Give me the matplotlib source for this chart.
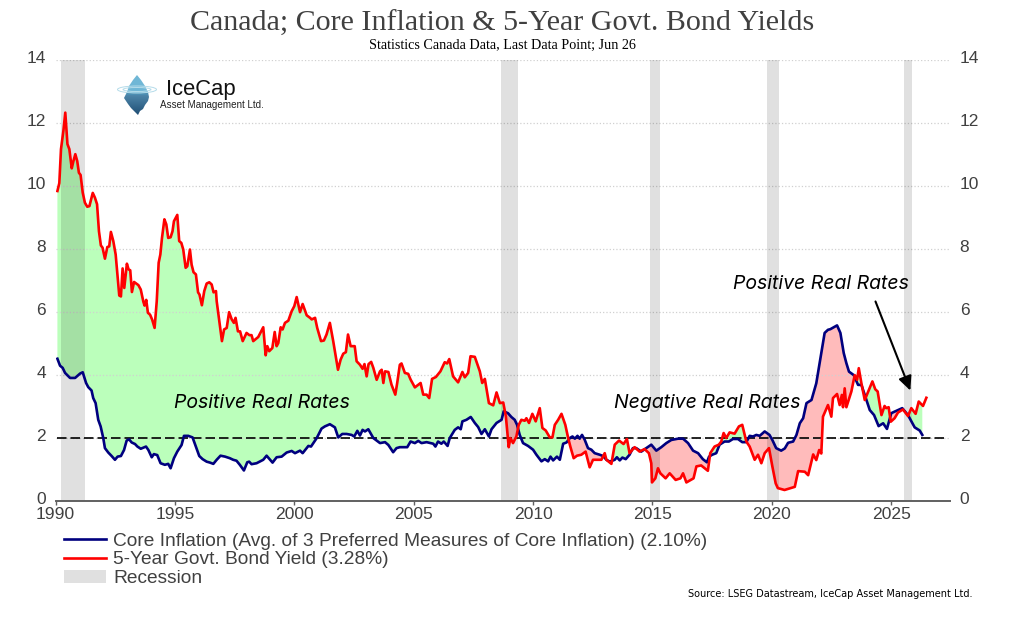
# Canada core inflation vs 5-year bond yield
import numpy as np
import matplotlib
matplotlib.use("Agg")
import matplotlib.pyplot as plt
from matplotlib.lines import Line2D
from matplotlib.patches import Patch, Polygon, Ellipse
from matplotlib.transforms import ScaledTranslation

# 5-year yield (year fraction, percent)
red_years = [1990.08, 1990.16, 1990.23, 1990.33, 1990.41, 1990.50, 1990.58, 1990.68, 1990.75, 1990.83,
             1990.91, 1990.98, 1991.05, 1991.14, 1991.23, 1991.33, 1991.42, 1991.56, 1991.65, 1991.74,
             1991.82, 1991.90, 1991.97, 1992.07, 1992.17, 1992.25, 1992.32, 1992.42, 1992.52, 1992.60,
             1992.67, 1992.74, 1992.81, 1992.88, 1992.99, 1993.06, 1993.13, 1993.20, 1993.29, 1993.47,
             1993.57, 1993.68, 1993.73, 1993.80, 1993.87, 1993.96, 1994.05, 1994.15, 1994.24, 1994.32,
             1994.39, 1994.46, 1994.56, 1994.64, 1994.72, 1994.82, 1994.90, 1994.96, 1995.10, 1995.18,
             1995.27, 1995.35, 1995.45, 1995.52, 1995.63, 1995.70, 1995.78, 1995.88, 1995.97, 1996.03,
             1996.13, 1996.23, 1996.33, 1996.44, 1996.54, 1996.62, 1996.72, 1996.75, 1996.86, 1996.97,
             1997.06, 1997.17, 1997.27, 1997.38, 1997.47, 1997.54, 1997.64, 1997.73, 1997.84, 1998.00,
             1998.12, 1998.21, 1998.28, 1998.49, 1998.70, 1998.80, 1998.87, 1998.95, 1999.08, 1999.18,
             1999.26, 1999.33, 1999.43, 1999.51, 1999.61, 1999.75, 1999.89, 2000.00, 2000.10, 2000.24,
             2000.35, 2000.52, 2000.66, 2000.73, 2000.87, 2000.96, 2001.12, 2001.24, 2001.35, 2001.49,
             2001.63, 2001.83, 2001.94, 2002.05, 2002.16, 2002.25, 2002.36, 2002.53, 2002.61, 2002.75,
             2002.86, 2002.94, 2003.03, 2003.11, 2003.22, 2003.31, 2003.45, 2003.59, 2003.66, 2003.73,
             2003.80, 2003.94, 2004.07, 2004.23, 2004.31, 2004.42, 2004.49, 2004.63, 2004.77, 2004.87,
             2005.05, 2005.29, 2005.40, 2005.54, 2005.65, 2005.77, 2005.93, 2006.12, 2006.30, 2006.40,
             2006.49, 2006.65, 2006.86, 2007.04, 2007.14, 2007.28, 2007.38, 2007.56, 2007.77, 2007.87,
             2007.98, 2008.15, 2008.33, 2008.47, 2008.61, 2008.75, 2008.86, 2008.98, 2009.05, 2009.16,
             2009.30, 2009.40, 2009.51, 2009.65, 2009.72, 2009.83, 2009.97, 2010.11, 2010.28, 2010.39,
             2010.53, 2010.70, 2010.81, 2010.91, 2011.05, 2011.19, 2011.35, 2011.47, 2011.56, 2011.70,
             2011.84, 2012.02, 2012.20, 2012.37, 2012.51, 2012.72, 2012.86, 2013.00, 2013.07, 2013.28,
             2013.42, 2013.60, 2013.79, 2013.93, 2014.04, 2014.25, 2014.46, 2014.67, 2014.85, 2014.95,
             2014.98, 2015.12, 2015.23, 2015.33, 2015.55, 2015.72, 2015.97, 2016.17, 2016.28, 2016.42,
             2016.56, 2016.72, 2016.84, 2017.04, 2017.32, 2017.42, 2017.60, 2017.78, 2017.88, 2017.98,
             2018.09, 2018.23, 2018.44, 2018.62, 2018.76, 2018.93, 2019.07, 2019.28, 2019.42, 2019.56,
             2019.70, 2019.88, 2020.02, 2020.16, 2020.25, 2020.53, 2020.75, 2020.96, 2021.10, 2021.38,
             2021.52, 2021.73, 2021.86, 2021.98, 2022.07, 2022.14, 2022.35, 2022.49, 2022.56, 2022.73,
             2022.84, 2022.93, 2022.98, 2023.05, 2023.12, 2023.33, 2023.47, 2023.57, 2023.64, 2023.75,
             2023.89, 2024.21, 2024.33, 2024.43, 2024.59, 2024.72, 2024.79, 2024.89, 2024.98, 2025.14,
             2025.28, 2025.49, 2025.70, 2025.84, 2026.02, 2026.15, 2026.33, 2026.47]
red_vals = [9.85, 10.10, 11.18, 11.76, 12.34, 11.34, 11.18, 10.57, 10.80, 11.02,
            10.80, 10.43, 10.36, 9.80, 9.48, 9.35, 9.37, 9.79, 9.64, 9.43,
            8.57, 8.12, 8.05, 7.70, 8.07, 8.09, 8.55, 8.26, 7.83, 7.14,
            6.53, 6.50, 7.39, 6.77, 7.54, 7.36, 7.33, 6.64, 6.96, 6.86,
            6.72, 6.33, 6.21, 6.39, 5.98, 5.92, 5.76, 5.50, 6.35, 7.57,
            7.83, 8.36, 8.95, 8.79, 8.36, 8.38, 8.57, 8.89, 9.09, 8.26,
            8.20, 7.99, 7.41, 7.46, 7.99, 7.51, 7.27, 7.20, 6.63, 6.56,
            6.22, 6.67, 6.91, 6.95, 6.88, 6.63, 6.67, 6.35, 5.71, 5.08,
            5.45, 5.50, 6.00, 5.77, 5.66, 5.82, 5.39, 5.39, 5.08, 5.34,
            5.27, 5.27, 5.08, 5.21, 5.52, 4.63, 4.92, 4.76, 4.86, 5.37,
            4.92, 5.02, 5.52, 5.45, 5.66, 5.73, 6.03, 6.19, 6.48, 6.00,
            6.26, 5.90, 5.82, 5.77, 5.82, 5.50, 5.08, 5.10, 5.29, 5.66,
            5.08, 4.17, 4.49, 4.68, 4.73, 5.29, 4.92, 4.92, 4.44, 4.33,
            4.20, 4.35, 3.96, 4.35, 4.42, 4.23, 3.85, 4.12, 4.17, 3.75,
            4.12, 4.10, 3.70, 3.38, 3.75, 4.33, 4.37, 4.07, 4.04, 3.86,
            3.61, 3.75, 3.38, 3.38, 3.27, 3.88, 3.94, 4.12, 4.41, 4.37,
            4.51, 3.96, 3.77, 4.10, 3.93, 4.07, 4.60, 4.58, 4.12, 3.75,
            3.88, 3.11, 3.04, 3.45, 3.11, 3.13, 2.69, 1.71, 2.00, 1.84,
            2.05, 2.42, 2.58, 2.55, 2.63, 2.48, 2.77, 2.53, 2.95, 2.32,
            2.24, 2.02, 2.02, 2.42, 2.58, 2.77, 2.42, 2.00, 1.73, 1.36,
            1.44, 1.47, 1.57, 1.07, 1.31, 1.31, 1.31, 1.52, 1.31, 1.18,
            1.79, 1.92, 1.81, 1.97, 1.52, 1.71, 1.57, 1.65, 1.52, 1.20,
            0.59, 0.72, 1.04, 0.88, 0.72, 0.88, 0.67, 0.72, 0.88, 0.59,
            0.65, 0.72, 1.10, 1.13, 0.96, 1.52, 1.73, 1.79, 1.89, 2.16,
            2.00, 2.18, 2.14, 2.37, 2.42, 1.89, 1.73, 1.31, 1.47, 1.20,
            1.52, 1.68, 1.10, 0.56, 0.41, 0.35, 0.40, 0.45, 0.95, 0.93,
            0.82, 1.48, 1.30, 1.62, 1.51, 2.68, 3.05, 2.68, 3.27, 3.40,
            3.05, 3.37, 2.98, 3.58, 2.98, 3.48, 4.00, 3.85, 4.22, 3.74,
            3.21, 3.80, 3.55, 3.48, 2.73, 3.02, 2.95, 2.98, 2.52, 2.63,
            2.81, 2.91, 2.70, 2.95, 2.77, 3.16, 3.02, 3.28]

# core inflation (year fraction, percent)
blue_years = [1990.08, 1990.19, 1990.30, 1990.40, 1990.61, 1990.82, 1991.03, 1991.14, 1991.28, 1991.37,
              1991.51, 1991.58, 1991.68, 1991.79, 1991.89, 1992.00, 1992.07, 1992.21, 1992.35, 1992.49,
              1992.60, 1992.74, 1992.87, 1992.98, 1993.08, 1993.19, 1993.33, 1993.43, 1993.57, 1993.79,
              1993.89, 1994.03, 1994.12, 1994.26, 1994.40, 1994.58, 1994.72, 1994.82, 1994.96, 1995.10,
              1995.28, 1995.38, 1995.56, 1995.74, 1995.88, 1996.02, 1996.16, 1996.33, 1996.47, 1996.61,
              1996.75, 1996.91, 1997.10, 1997.30, 1997.44, 1997.58, 1997.72, 1997.89, 1998.03, 1998.11,
              1998.21, 1998.42, 1998.70, 1998.84, 1999.09, 1999.26, 1999.47, 1999.68, 1999.89, 2000.03,
              2000.24, 2000.35, 2000.59, 2000.70, 2000.94, 2001.14, 2001.28, 2001.49, 2001.70, 2001.84,
              2002.01, 2002.19, 2002.40, 2002.51, 2002.64, 2002.75, 2002.86, 2002.96, 2003.10, 2003.31,
              2003.59, 2003.80, 2003.94, 2004.14, 2004.28, 2004.42, 2004.73, 2004.87, 2005.05, 2005.19,
              2005.33, 2005.54, 2005.82, 2005.91, 2006.02, 2006.16, 2006.26, 2006.42, 2006.51, 2006.72,
              2006.86, 2006.97, 2007.04, 2007.21, 2007.39, 2007.56, 2007.70, 2007.84, 2007.98, 2008.15,
              2008.26, 2008.47, 2008.68, 2008.77, 2008.95, 2009.09, 2009.23, 2009.33, 2009.44, 2009.58,
              2009.79, 2010.00, 2010.14, 2010.35, 2010.49, 2010.63, 2010.73, 2010.84, 2011.00, 2011.12,
              2011.26, 2011.40, 2011.54, 2011.65, 2011.75, 2011.86, 2011.95, 2012.05, 2012.16, 2012.30,
              2012.44, 2012.58, 2012.79, 2012.93, 2013.07, 2013.21, 2013.42, 2013.51, 2013.63, 2013.74,
              2013.88, 2014.04, 2014.18, 2014.32, 2014.53, 2014.74, 2014.95, 2015.16, 2015.37, 2015.58,
              2015.79, 2016.07, 2016.28, 2016.49, 2016.70, 2016.91, 2017.11, 2017.28, 2017.37, 2017.50,
              2017.67, 2017.81, 2018.02, 2018.20, 2018.37, 2018.58, 2018.76, 2018.93, 2019.07, 2019.21,
              2019.35, 2019.49, 2019.70, 2019.90, 2020.02, 2020.18, 2020.39, 2020.54, 2020.68, 2020.89,
              2021.03, 2021.17, 2021.31, 2021.45, 2021.66, 2021.86, 2022.07, 2022.21, 2022.35, 2022.45,
              2022.73, 2022.87, 2023.01, 2023.12, 2023.23, 2023.43, 2023.61, 2023.75, 2023.96, 2024.10,
              2024.28, 2024.47, 2024.66, 2024.82, 2025.00, 2025.14, 2025.46, 2025.70, 2025.98, 2026.19,
              2026.30]
blue_vals = [4.52, 4.30, 4.23, 4.07, 3.91, 3.91, 4.05, 4.09, 3.75, 3.62,
             3.51, 3.27, 3.11, 2.58, 2.37, 2.00, 1.68, 1.54, 1.43, 1.31,
             1.41, 1.43, 1.62, 1.92, 1.96, 1.86, 1.81, 1.73, 1.66, 1.73,
             1.62, 1.39, 1.49, 1.46, 1.20, 1.15, 1.18, 1.04, 1.36, 1.57,
             1.78, 2.07, 2.07, 2.02, 1.73, 1.43, 1.33, 1.25, 1.22, 1.18,
             1.31, 1.44, 1.41, 1.36, 1.31, 1.28, 1.15, 0.97, 1.23, 1.25,
             1.17, 1.20, 1.31, 1.44, 1.22, 1.39, 1.41, 1.54, 1.59, 1.52,
             1.60, 1.52, 1.75, 1.73, 2.00, 2.30, 2.37, 2.44, 2.34, 2.02,
             2.13, 2.13, 2.10, 2.05, 2.23, 2.08, 2.26, 2.21, 2.28, 2.00,
             1.84, 1.87, 1.78, 1.55, 1.68, 1.71, 1.71, 1.89, 1.84, 1.91,
             1.84, 1.87, 1.82, 1.73, 1.89, 1.82, 1.89, 1.75, 2.00, 2.26,
             2.34, 2.28, 2.53, 2.58, 2.67, 2.48, 2.35, 2.13, 2.28, 2.05,
             2.28, 2.48, 2.58, 2.85, 2.79, 2.67, 2.58, 2.42, 2.10, 1.84,
             1.75, 1.63, 1.47, 1.26, 1.33, 1.26, 1.41, 1.29, 1.41, 1.31,
             1.82, 1.86, 2.00, 2.05, 1.98, 2.07, 1.98, 2.10, 1.95, 1.68,
             1.63, 1.52, 1.47, 1.43, 1.31, 1.25, 1.31, 1.39, 1.29, 1.38,
             1.33, 1.47, 1.68, 1.68, 1.57, 1.68, 1.79, 1.60, 1.71, 1.84,
             1.94, 1.98, 1.98, 1.84, 1.60, 1.52, 1.33, 1.23, 1.41, 1.47,
             1.52, 1.79, 1.89, 1.89, 1.97, 1.97, 1.87, 1.87, 2.07, 2.05,
             2.10, 2.07, 2.21, 2.10, 1.94, 1.68, 1.60, 1.67, 1.85, 1.89,
             2.10, 2.47, 2.63, 3.11, 3.21, 3.74, 4.70, 5.34, 5.44, 5.46,
             5.58, 5.34, 4.70, 4.38, 4.11, 4.00, 3.69, 3.69, 3.21, 2.89,
             2.73, 2.38, 2.47, 2.29, 2.79, 2.84, 2.95, 2.73, 2.34, 2.24,
             2.10]

rec_start = [1990.24, 2008.66, 2014.88, 2019.81, 2025.53]
rec_end = [1991.22, 2009.36, 2015.33, 2020.31, 2025.86]
x_ticks = [1990, 1995, 2000, 2005, 2010, 2015, 2020, 2025]
y_ticks = [0, 2, 4, 6, 8, 10, 12, 14]

NAVY = "#00007F"
RED = "#FF0000"
GREY_TXT = "#404040"

W, H = 1013, 623
fig = plt.figure(figsize=(W / 100, H / 100), dpi=100)
plt.rcParams["font.family"] = ["Liberation Sans", "DejaVu Sans"]
ax = fig.add_axes([55.5 / W, (H - 501) / H, (950 - 55.5) / W, (501 - 60.4) / H])
ax.set_xlim(1990, 2027.46)
ax.set_ylim(0, 14)

# shaded gap between the two lines, both lines put on the union of their dates
t = np.union1d(red_years, blue_years)
t = t[t <= blue_years[-1]]
r = np.interp(t, red_years, red_vals)
b = np.interp(t, blue_years, blue_vals)
ax.fill_between(t, r, b, where=r >= b, interpolate=True, color="#BBFFBB", lw=0, zorder=1)
ax.fill_between(t, r, b, where=r <= b, interpolate=True, color="#FFBBBB", lw=0, zorder=1)

for s, e in zip(rec_start, rec_end):
    ax.axvspan(s, e, color="black", alpha=0.12, lw=0, zorder=2)

ax.plot([1990.08, 2027.3], [2, 2], color="black", lw=1.2, dashes=(5.7, 2.4), zorder=3)
ax.plot(blue_years, blue_vals, color=NAVY, lw=1.9, zorder=4)
ax.plot(red_years, red_vals, color=RED, lw=1.9, zorder=5)

ax.set_xticks(x_ticks)
ax.set_yticks(y_ticks)
ax.grid(axis="y", color="#D0D0D0", ls=":", lw=0.9, zorder=0)
for side in ["top", "left", "right"]:
    ax.spines[side].set_visible(False)
ax.spines["bottom"].set_color("#606060")
ax.spines["bottom"].set_linewidth(1.4)
ax.tick_params(axis="x", length=3, width=1, color="#606060", labelsize=12.6, labelcolor=GREY_TXT, pad=1)
ax.tick_params(axis="y", length=0, labelsize=12.5, labelcolor=GREY_TXT, labelright=True, pad=7)
# y labels sit a little above their gridlines in the reference
up = ScaledTranslation(0, 3 / 100, fig.dpi_scale_trans)
for tk in ax.yaxis.get_major_ticks():
    tk.label1.set_transform(tk.label1.get_transform() + up)
    tk.label2.set_transform(tk.label2.get_transform() + up)

# annotations
note = dict(family="Inter", style="italic", fontsize=14, color="black", va="center", ha="left", zorder=6)
ax.text(1994.96, 3.1, "Positive Real Rates", **note)
ax.text(2013.38, 3.1, "Negative Real Rates", **note)
ax.text(2018.36, 6.88, "Positive Real Rates", **note)
ax.annotate("", xy=(2025.8, 3.51), xytext=(2024.34, 6.34), zorder=6,
            arrowprops=dict(arrowstyle="-|>,head_length=0.85,head_width=0.4", color="black", lw=1.5,
                            shrinkA=0, shrinkB=0))

# titles
fig.text(502 / W, 1 - 23.5 / H, "Canada; Core Inflation & 5-Year Govt. Bond Yields", family="Liberation Serif",
         fontsize=21.6, color=GREY_TXT, ha="center", va="center")
fig.text(502 / W, 1 - 45 / H, "Statistics Canada Data, Last Data Point; Jun 26", family="Liberation Serif",
         fontsize=10.2, color="black", ha="center", va="center")
fig.text(972 / W, 1 - 594 / H, "Source: LSEG Datastream, IceCap Asset Management Ltd.", family="DejaVu Sans",
         fontsize=7.05, color="black", ha="right", va="center")

# legend
handles = [Line2D([], [], color=NAVY, lw=1.9), Line2D([], [], color=RED, lw=1.9),
           Patch(facecolor="#E0E0E0", edgecolor="none")]
labels = ["Core Inflation (Avg. of 3 Preferred Measures of Core Inflation) (2.10%)",
          "5-Year Govt. Bond Yield (3.28%)", "Recession"]
fig.legend(handles, labels, loc="upper left", bbox_to_anchor=(64 / W, 1 - 532.5 / H), frameon=False,
           fontsize=13.8, labelcolor=GREY_TXT, handlelength=2.2, handletextpad=0.37, labelspacing=0.06,
           borderpad=0, borderaxespad=0)

# logo, drawn on a pixel-coordinate overlay
ov = fig.add_axes([0, 0, 1, 1], facecolor="none")
ov.set_xlim(0, W)
ov.set_ylim(H, 0)
ov.axis("off")
berg = [(137, 75), (141, 80), (145, 86), (148, 92), (149, 97), (148, 101), (145, 105), (143, 109), (140, 111),
        (138, 115), (135, 112), (131, 108), (128, 104), (124, 98), (127, 92), (129, 86), (133, 80)]
grad = np.array([[0.44, 0.72, 0.84]] * 18 + [[0.30, 0.56, 0.70]] * 2 +
                [[0.30 - 0.009 * i, 0.52 - 0.011 * i, 0.66 - 0.0105 * i] for i in range(20)])[:, None, :]
im = ov.imshow(grad, extent=(124, 149, 115, 75), aspect="auto", zorder=1)
im.set_clip_path(Polygon(berg, transform=ov.transData))
ov.set_xlim(0, W)
ov.set_ylim(H, 0)
for w, hh in [(39, 7), (28, 4)]:
    ov.add_patch(Ellipse((137, 89.5), w, hh, fill=False, ec="#B5DCEA", lw=0.7, zorder=2))
ov.text(166, 89, "IceCap", family="Liberation Sans", fontsize=15.8, color="#111111", va="center", ha="left")
ov.text(160, 105, "Asset Management Ltd.", family="Liberation Sans", fontsize=7.1, color="#222222",
        va="center", ha="left")

fig.savefig("out.png", dpi=100)
